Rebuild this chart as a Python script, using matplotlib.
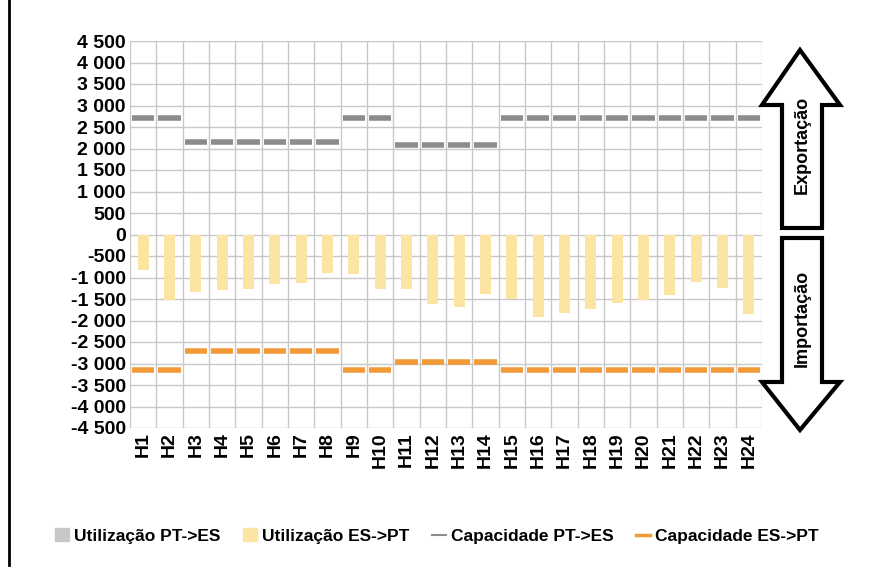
import matplotlib
matplotlib.use("Agg")
import matplotlib.pyplot as plt
from matplotlib.patches import Polygon
from matplotlib.lines import Line2D
from matplotlib.patches import Patch
import numpy as np

plt.rcParams['font.family'] = ['Liberation Sans', 'DejaVu Sans']
plt.rcParams['font.weight'] = 'bold'

hours = ["H%d" % i for i in range(1, 25)]
util_pt_es = [0] * 24
util_es_pt = [-820, -1520, -1330, -1300, -1270, -1150, -1120, -890, -920, -1260, -1270, -1620,
              -1680, -1380, -1490, -1910, -1830, -1740, -1590, -1520, -1410, -1100, -1240, -1850]
cap_pt_es = [2700, 2700, 2150, 2150, 2150, 2150, 2150, 2150, 2700, 2700, 2080, 2080,
             2080, 2080, 2700, 2700, 2700, 2700, 2700, 2700, 2700, 2700, 2700, 2700]
cap_es_pt = [-3150, -3150, -2720, -2720, -2720, -2720, -2720, -2720, -3150, -3150, -2960, -2960,
             -2960, -2960, -3150, -3150, -3150, -3150, -3150, -3150, -3150, -3150, -3150, -3150]

W, H = 870, 581
fig = plt.figure(figsize=(8.7, 5.81), dpi=100)
ax = fig.add_axes([130 / W, 1 - 428 / H, 632 / W, 387 / H])
x = np.arange(24)

ax.bar(x, util_pt_es, width=0.42, color='#c8c8c8', zorder=2)
ax.bar(x, util_es_pt, width=0.42, color='#fce4a3', zorder=2)
ax.hlines(cap_pt_es, x - 0.42, x + 0.42, color='#8c8c8c', lw=4, zorder=3)
ax.hlines(cap_es_pt, x - 0.42, x + 0.42, color='#f29a38', lw=4, zorder=3)

ax.set_xlim(-0.5, 23.5)
ax.set_ylim(-4500, 4500)
yt = np.arange(-4500, 4501, 500)
ax.set_yticks(yt)
ax.set_yticklabels([("%d" % v if abs(v) < 1000 else ("-" if v < 0 else "") + "%d %03d" % (abs(v) // 1000, abs(v) % 1000)) for v in yt],
                   fontsize=14, fontweight='bold')
ax.set_xticks(x)
ax.set_xticklabels(hours, rotation=90, fontsize=14, fontweight='bold')
ax.set_xticks(np.arange(-0.5, 24, 1), minor=True)
ax.grid(True, which='minor', axis='x', color='#c8c8c8', lw=1)
ax.grid(True, which='major', axis='y', color='#c8c8c8', lw=1)
ax.tick_params(which='both', length=0, pad=3)
for s in ax.spines.values():
    s.set_visible(False)
ax.set_axisbelow(True)

def fp(pts):
    return [(px / W, 1 - py / H) for px, py in pts]

up = [(800, 50), (840, 105), (822, 105), (822, 228), (782, 228), (782, 105), (762, 105)]
down = [(800, 430), (840, 382), (822, 382), (822, 238), (782, 238), (782, 382), (762, 382)]
for pts in (up, down):
    fig.patches.append(Polygon(fp(pts), closed=True, fill=False, ec='black', lw=3,
                               transform=fig.transFigure))
fig.text(802 / W, 1 - 145 / H, "Exportação", rotation=90, ha='center', va='center', fontsize=13, fontweight='bold')
fig.text(802 / W, 1 - 318 / H, "Importação", rotation=90, ha='center', va='center', fontsize=13, fontweight='bold')

fig.add_artist(Line2D([9 / W, 9 / W], [1 - 565 / H, 1], color='black', lw=2))

handles = [Patch(color='#c8c8c8'), Patch(color='#fce4a3'),
           Line2D([], [], color='#8c8c8c', lw=1.5), Line2D([], [], color='#f29a38', lw=2.5)]
labels = ["Utilização PT->ES", "Utilização ES->PT", "Capacidade PT->ES", "Capacidade ES->PT"]
fig.legend(handles, labels, loc='center', bbox_to_anchor=(437 / W, 1 - 536 / H), ncol=4, frameon=False,
           handlelength=0.8, handletextpad=0.3, columnspacing=1.3,
           prop={'weight': 'bold', 'size': 12.5})

fig.savefig("out.png", dpi=100)
